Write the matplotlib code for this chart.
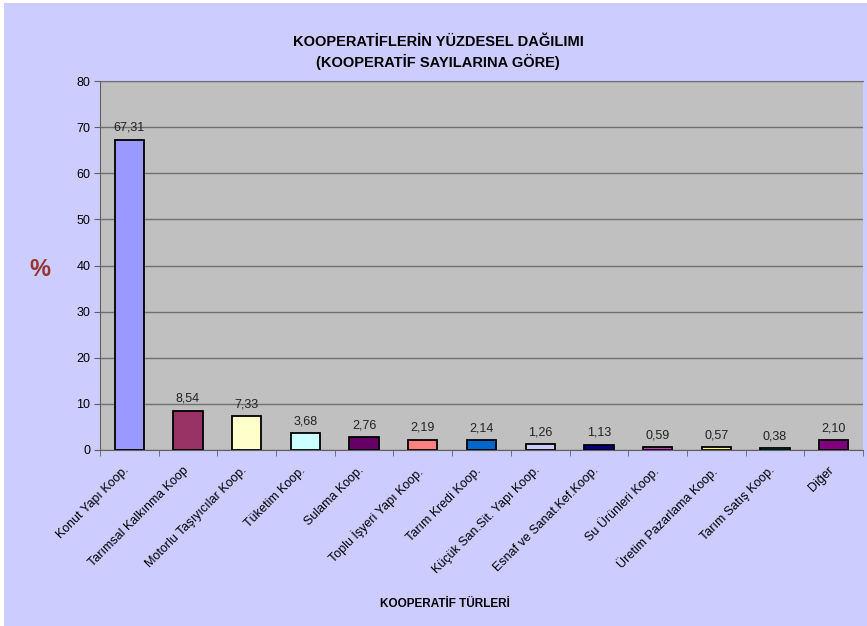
import numpy as np
import matplotlib.pyplot as plt
import matplotlib.transforms as mtransforms
from matplotlib.patches import Rectangle

plt.rcParams['font.family'] = ['Liberation Sans', 'DejaVu Sans']

categories = ["Konut Yapı Koop.", "Tarımsal Kalkınma Koop", "Motorlu Taşıyıcılar Koop.",
              "Tüketim Koop.", "Sulama Koop.", "Toplu İşyeri Yapı Koop.", "Tarım Kredi Koop.",
              "Küçük San.Sit. Yapı Koop.", "Esnaf ve Sanat.Kef.Koop.", "Su Ürünleri Koop.",
              "Üretim Pazarlama Koop.", "Tarım Satış Koop.", "Diğer"]
values = [67.31, 8.54, 7.33, 3.68, 2.76, 2.19, 2.14, 1.26, 1.13, 0.59, 0.57, 0.38, 2.10]
bar_colors = ["#9999FF", "#993366", "#FFFFCC", "#CCFFFF", "#660066", "#FF8080", "#0066CC",
              "#CCCCFF", "#000080", "#CC33CC", "#FFFF66", "#00FFFF", "#800080"]
y_ticks = [0, 10, 20, 30, 40, 50, 60, 70, 80]

fig = plt.figure(figsize=(8.67, 6.26), dpi=100, facecolor="white")
# lavender chart background, behind the axes
fig.patches.append(Rectangle((4 / 867, 0), 1, 1 - 3 / 626, transform=fig.transFigure,
                             facecolor="#CCCCFF", edgecolor="none", zorder=-10))

ax = fig.add_axes([100 / 867, 1 - 450 / 626, 763 / 867, 369 / 626])
ax.set_facecolor("#C0C0C0")

x = np.arange(len(categories))
ax.bar(x, values, width=0.5, color=bar_colors, edgecolor="black", linewidth=1.3, zorder=3)

for xi, v in zip(x, values):
    ax.text(xi, v + 1.3, "{:.2f}".format(v).replace(".", ","), ha="center", va="bottom",
            fontsize=9, color="#222222", zorder=4)

ax.set_xlim(-0.5, len(categories) - 0.5)
ax.set_ylim(0, 80)
ax.set_yticks(y_ticks)
ax.yaxis.grid(True, color="#707070", linewidth=1, zorder=1)
ax.set_axisbelow(True)

ax.set_xticks(x)
ax.set_xticklabels(categories, rotation=45, ha="right", rotation_mode="anchor", fontsize=9)
ax.set_xticks(np.arange(len(categories) + 1) - 0.5, minor=True)
ax.tick_params(axis="x", which="major", length=0, pad=9)
ax.tick_params(axis="x", which="minor", length=4, color="#606060")
ax.tick_params(axis="y", length=4, color="#606060", labelsize=9, pad=3)

# nudge the slanted labels a bit left, like the original
shift = mtransforms.ScaledTranslation(-6 / 100, -2 / 100, fig.dpi_scale_trans)
for lbl in ax.get_xticklabels():
    lbl.set_transform(lbl.get_transform() + shift)

ax.spines["right"].set_visible(False)
ax.spines["top"].set_color("#707070")
ax.spines["left"].set_color("#606060")
ax.spines["bottom"].set_color("#606060")

fig.text(438 / 867, 1 - 42 / 626, "KOOPERATİFLERİN YÜZDESEL DAĞILIMI", ha="center", va="center",
         fontsize=10.5, fontweight="bold")
fig.text(438 / 867, 1 - 62 / 626, "(KOOPERATİF SAYILARINA GÖRE)", ha="center", va="center",
         fontsize=10.5, fontweight="bold")
fig.text(40 / 867, 1 - 270 / 626, "%", ha="center", va="center", fontsize=17,
         fontweight="bold", color="#993333")
fig.text(445 / 867, 1 - 604 / 626, "KOOPERATİF TÜRLERİ", ha="center", va="center",
         fontsize=8.5, fontweight="bold")

fig.savefig("out.png", dpi=100, facecolor=fig.get_facecolor())
